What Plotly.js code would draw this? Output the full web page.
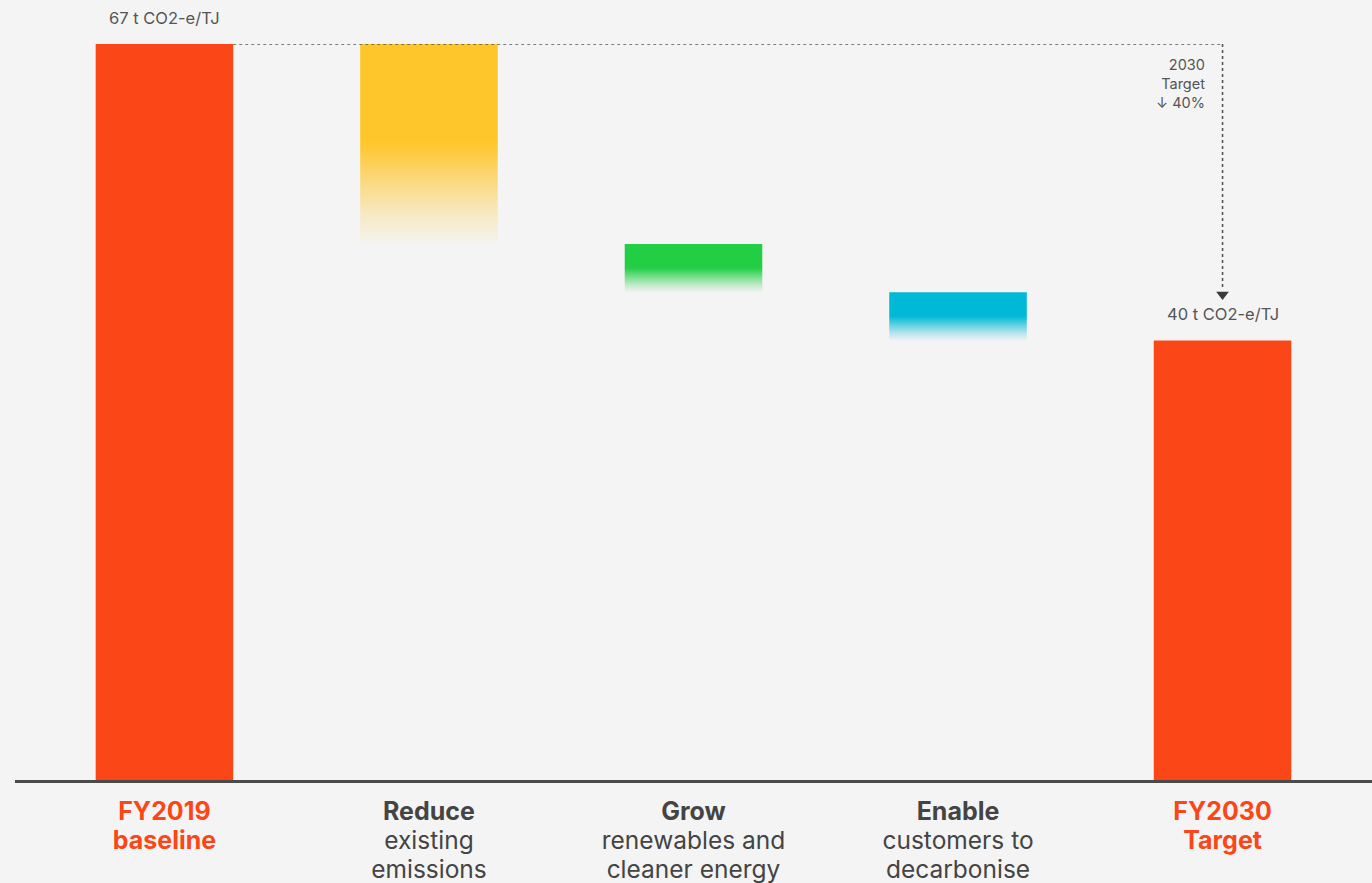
<!DOCTYPE html>
<html>
<head>
<meta charset="utf-8">
<script src="https://cdn.plot.ly/plotly-3.0.1.min.js"></script>
<style>html,body{margin:0;padding:0;background:#f4f4f4;}#chart{width:1372px;height:883px;}</style>
</head>
<body>
<div id="chart"></div>
<script>
// ---- data ----
const categories = ['FY2019 baseline', 'Reduce existing emissions', 'Grow renewables and cleaner energy', 'Enable customers to decarbonise', 'FY2030 Target'];
const values = [67, -18.2, -4.4, -4.4, 40];           // t CO2-e/TJ (totals and reductions)
const measures = ['absolute', 'relative', 'relative', 'relative', 'total'];
const labelHead = ['FY2019', 'Reduce', 'Grow', 'Enable', 'FY2030'];
const labelBody = [['baseline'], ['existing', 'emissions'], ['renewables and', 'cleaner energy'], ['customers to', 'decarbonise'], ['Target']];
const baselineLabel = '67 t CO2-e/TJ';
const targetLabel = '40 t CO2-e/TJ';
const targetNote = '2030<br>Target<br>↓ 40%';

// ---- styles ----
const ORANGE = '#FB4717';
const FONT = 'Inter, Lato, "Open Sans", sans-serif';
const stepColors = [null, [255, 198, 43], [34, 206, 68], [0, 185, 215], null];
const W = 0.52;
const xs = categories.map((_, i) => i);

const tickLabels = xs.map(i => {
  const isTotal = i === 0 || i === xs.length - 1;
  if (isTotal) {
    return [labelHead[i]].concat(labelBody[i])
      .map(t => `<span style="color:${ORANGE};font-size:25px"><b>${t}</b></span>`).join('<br>');
  }
  return `<span style="font-size:25px"><b>${labelHead[i]}</b></span><br>` +
    labelBody[i].map(t => `<span style="font-size:24.5px">${t}</span>`).join('<br>');
});

// compute floating bar extents
let running = 0;
const tops = [], bottoms = [];
values.forEach((v, i) => {
  if (measures[i] === 'absolute' || measures[i] === 'total') {
    running = v; tops.push(v); bottoms.push(0);
  } else {
    const start = running; running = running + v;
    tops.push(Math.max(start, running)); bottoms.push(Math.min(start, running));
  }
});

const traces = [];
const solidIdx = xs.filter(i => measures[i] !== 'relative');
traces.push({
  type: 'bar',
  x: solidIdx, y: solidIdx.map(i => tops[i]),
  width: W, marker: {color: ORANGE, line: {width: 0}},
  hoverinfo: 'skip', showlegend: false
});
xs.filter(i => measures[i] === 'relative').forEach(i => {
  const c = stepColors[i];
  const rgba = a => `rgba(${c[0]},${c[1]},${c[2]},${a})`;
  traces.push({
    type: 'scatter', mode: 'lines',
    x: [i - W / 2, i + W / 2, i + W / 2, i - W / 2, i - W / 2],
    y: [tops[i], tops[i], bottoms[i], bottoms[i], tops[i]],
    fill: 'toself', line: {width: 0, color: rgba(0)},
    fillcolor: rgba(1),
    fillgradient: {
      type: 'vertical', start: bottoms[i], stop: tops[i],
      colorscale: [[0, rgba(0.02)], [0.15, rgba(0.25)], [0.32, rgba(0.6)], [0.48, rgba(0.95)], [0.52, rgba(1)], [1, rgba(1)]]
    },
    hoverinfo: 'skip', showlegend: false
  });
});
const last = xs.length - 1;
traces.push({
  type: 'scatter', mode: 'markers',
  x: [last], y: [tops[last] + 4.2],
  marker: {symbol: 'triangle-down', size: 11, color: '#3a3a3a'},
  hoverinfo: 'skip', showlegend: false, cliponaxis: false
});

const layout = {
  width: 1372, height: 883,
  margin: {l: 15, r: 0, t: 44, b: 103},
  paper_bgcolor: '#f4f4f4', plot_bgcolor: '#f4f4f4',
  font: {family: FONT, color: '#444'},
  showlegend: false,
  hovermode: false,
  xaxis: {
    range: [-0.565, last + 0.565], fixedrange: true,
    tickmode: 'array', tickvals: xs, ticktext: tickLabels,
    tickfont: {size: 22.5, color: '#444', family: FONT},
    ticklabelstandoff: 10,
    ticks: '', showgrid: false, zeroline: false,
    showline: true, linecolor: '#4a4a4a', linewidth: 2.5
  },
  yaxis: {range: [0, tops[0]], visible: false, fixedrange: true, showgrid: false, zeroline: false},
  shapes: [
    {type: 'line', xref: 'x', yref: 'y', x0: W / 2, x1: last, y0: tops[0], y1: tops[0],
     line: {color: '#555', width: 1.6, dash: 'dot'}},
    {type: 'line', xref: 'x', yref: 'y', x0: last, x1: last, y0: tops[0], y1: tops[last] + 4.6,
     line: {color: '#555', width: 1.6, dash: 'dot'}}
  ],
  annotations: [
    {x: 0, y: tops[0], xref: 'x', yref: 'y', text: baselineLabel, showarrow: false,
     yanchor: 'bottom', yshift: 14, font: {size: 16.5, color: '#555'}},
    {x: last, y: tops[last], xref: 'x', yref: 'y', text: targetLabel, showarrow: false,
     yanchor: 'bottom', yshift: 15, font: {size: 16.5, color: '#555'}},
    {x: last, y: tops[0], xref: 'x', yref: 'y', text: targetNote, showarrow: false,
     xanchor: 'right', yanchor: 'top', xshift: -16, yshift: -10, align: 'right',
     font: {size: 14.5, color: '#555'}}
  ]
};

Plotly.newPlot('chart', traces, layout, {displayModeBar: false, staticPlot: true});
</script>
</body>
</html>
